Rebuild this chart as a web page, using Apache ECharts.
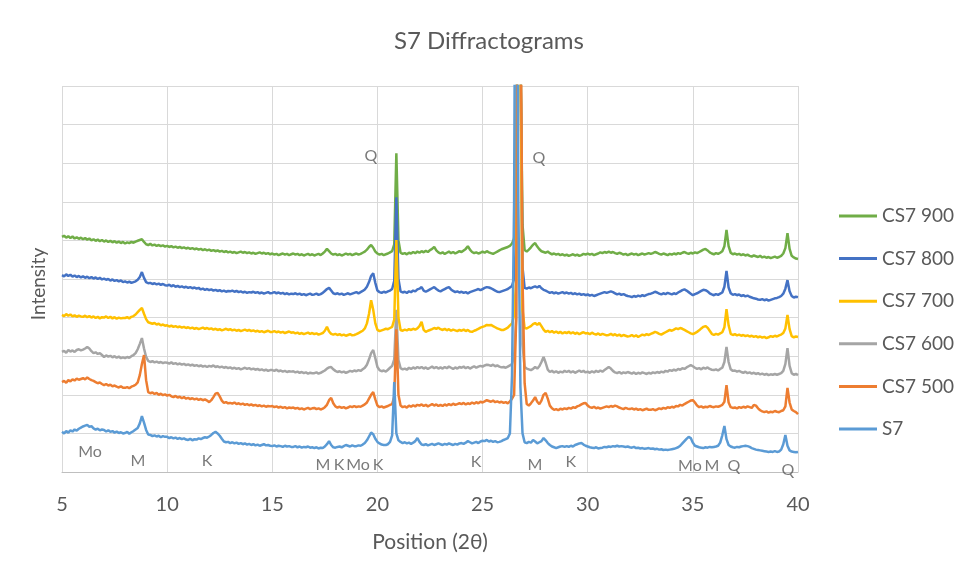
<!DOCTYPE html>
<html>
<head>
<meta charset="utf-8">
<script src="https://cdn.jsdelivr.net/npm/echarts@6/dist/echarts.min.js"></script>
<style>
  html, body { margin: 0; padding: 0; background: #ffffff; }
  #chart { width: 964px; height: 579px; }
</style>
</head>
<body>
<div id="chart"></div>
<script>
// Scan: 2θ from 5° to 40° in 0.1° steps (351 points per pattern)
const scanStart = 5.0;
const scanStep = 0.1;

// Intensities (offset, arbitrary units), one row per degree
const s7 = [
  104, 100, 106, 102, 108, 105, 110, 107, 112, 115,
  118, 120, 122, 117, 119, 113, 110, 112, 108, 110,
  109, 105, 108, 104, 106, 102, 105, 101, 103, 100,
  101, 104, 99, 103, 106, 110, 114, 126, 145, 128,
  109, 97, 96, 93, 95, 92, 94, 90, 93, 91,
  91, 88, 90, 87, 89, 86, 88, 85, 87, 84,
  83, 86, 82, 85, 84, 87, 85, 88, 90, 89,
  92, 96, 101, 104, 100, 94, 86, 79, 77, 78,
  75, 77, 74, 76, 73, 75, 72, 74, 71, 73,
  70, 72, 69, 71, 68, 70, 72, 69, 70, 68,
  67, 69, 66, 68, 67, 65, 68, 66, 67, 65,
  65, 67, 64, 66, 63, 65, 64, 66, 63, 64,
  62, 64, 61, 63, 62, 66, 72, 80, 70, 64,
  63, 65, 66, 64, 67, 70, 68, 66, 69, 67,
  67, 69, 68, 71, 75, 82, 92, 102, 98, 86,
  78, 74, 71, 70, 70, 72, 78, 95, 233, 100,
  82, 78, 75, 77, 74, 76, 73, 76, 80, 88,
  78, 71, 70, 72, 69, 71, 73, 70, 72, 74,
  72, 70, 73, 71, 74, 72, 70, 73, 71, 74,
  75, 73, 76, 80, 77, 74, 76, 78, 75, 79,
  81, 80, 83, 79, 81, 78, 80, 77, 78, 80,
  83, 85, 88, 100, 250, 700, 2000, 700, 220, 100,
  77, 75, 78, 76, 83, 79, 74, 77, 80, 88,
  82, 75, 70, 66, 64, 62, 64, 66, 67, 65,
  67, 65, 68, 66, 70, 72, 74, 75, 71, 68,
  66, 64, 63, 62, 64, 61, 62, 63, 65, 64,
  66, 65, 67, 66, 68, 66, 67, 66, 65, 66,
  64, 63, 65, 62, 63, 61, 62, 60, 61, 62,
  60, 61, 59, 60, 58, 59, 57, 58, 57, 58,
  59, 60, 62, 64, 68, 74, 80, 86, 91, 88,
  76, 68, 66, 64, 63, 62, 64, 63, 65, 64,
  65, 66, 68, 76, 95, 119, 85, 70, 66, 64,
  63, 65, 64, 66, 67, 68, 67, 65, 62, 60,
  58, 57, 56, 55, 54, 53, 52, 53, 52, 54,
  52, 53, 58, 72, 96, 68, 56, 53, 52, 51,
  52
];

const cs7_500 = [
  233, 236, 231, 238, 235, 240, 237, 242, 239, 241,
  243, 240, 245, 241, 238, 236, 233, 230, 232, 228,
  225, 228, 224, 226, 222, 224, 221, 219, 222, 218,
  218, 220, 217, 221, 223, 226, 232, 251, 280, 303,
  238, 207, 204, 206, 202, 205, 200, 203, 199, 201,
  198, 200, 196, 194, 197, 193, 195, 191, 194, 190,
  192, 189, 191, 188, 190, 187, 189, 186, 188, 185,
  181, 186, 194, 203, 205, 196, 185, 179, 181, 178,
  179, 177, 180, 176, 178, 175, 177, 174, 176, 173,
  175, 172, 174, 171, 173, 170, 172, 169, 171, 170,
  171, 168, 170, 167, 169, 166, 168, 165, 167, 166,
  167, 164, 166, 163, 165, 162, 164, 166, 163, 165,
  166, 163, 165, 162, 164, 168, 174, 186, 192, 178,
  170, 167, 169, 166, 168, 165, 167, 170, 168, 171,
  168, 170, 169, 172, 175, 180, 190, 200, 207, 188,
  172, 168, 170, 167, 169, 171, 174, 176, 195, 370,
  200, 172, 168, 170, 167, 172, 169, 173, 170, 174,
  172, 175, 171, 174, 170, 173, 176, 172, 175, 171,
  174, 171, 175, 172, 176, 173, 177, 174, 176, 178,
  176, 179, 175, 178, 176, 180, 177, 181, 178, 182,
  180, 183, 186, 184, 182, 185, 181, 183, 180, 182,
  179, 181, 178, 183, 190, 200, 400, 1800, 1300, 500,
  230, 176, 172, 178, 185, 194, 182, 176, 185, 200,
  205, 190, 172, 165, 161, 163, 160, 164, 162, 165,
  163, 166, 164, 168, 166, 170, 172, 175, 178, 179,
  172, 168, 166, 169, 165, 167, 164, 166, 168, 170,
  168, 171, 169, 172, 170, 167, 165, 163, 166, 164,
  163, 165, 162, 164, 161, 163, 160, 162, 164, 161,
  161, 163, 160, 162, 165, 163, 166, 164, 168, 166,
  169, 167, 171, 170, 174, 172, 176, 179, 182, 185,
  186, 180, 172, 168, 170, 167, 169, 168, 171, 169,
  168, 170, 169, 171, 174, 182, 225, 180, 168, 166,
  167, 165, 168, 166, 169, 167, 170, 168, 166, 174,
  172, 165, 160, 157, 155, 157, 154, 156, 155, 158,
  156, 155, 158, 160, 170, 218, 180, 162, 158, 155,
  150
];

const cs7_600 = [
  311, 314, 309, 316, 312, 315, 311, 316, 318, 315,
  317, 320, 324, 320, 313, 308, 310, 306, 308, 303,
  298, 302, 299, 301, 297, 300, 296, 299, 295, 297,
  295, 298, 296, 300, 303, 308, 318, 332, 347, 320,
  298, 288, 285, 287, 284, 286, 283, 285, 282, 284,
  283, 281, 284, 280, 282, 279, 281, 278, 280, 277,
  279, 276, 278, 275, 277, 274, 276, 273, 275, 272,
  275, 273, 276, 272, 274, 271, 273, 270, 272, 269,
  271, 268, 270, 267, 269, 266, 268, 270, 267, 269,
  266, 268, 265, 267, 264, 266, 263, 265, 262, 264,
  264, 262, 265, 261, 263, 260, 262, 259, 261, 260,
  261, 258, 260, 257, 259, 256, 258, 255, 257, 256,
  256, 258, 255, 257, 260, 263, 268, 271, 272, 266,
  262, 259, 261, 258, 260, 257, 259, 262, 260, 263,
  261, 264, 262, 266, 270, 278, 292, 308, 316, 295,
  272, 264, 261, 263, 260, 265, 270, 275, 292, 420,
  290, 269, 266, 268, 265, 270, 267, 271, 268, 272,
  269, 272, 268, 271, 267, 270, 273, 269, 272, 268,
  271, 268, 272, 269, 273, 270, 267, 271, 268, 272,
  270, 273, 269, 272, 268, 271, 274, 270, 273, 275,
  273, 276, 278, 277, 275, 278, 274, 276, 273, 271,
  272, 270, 273, 276, 280, 300, 400, 1800, 1100, 330,
  272, 268, 266, 264, 267, 272, 268, 274, 285, 298,
  283, 265, 259, 262, 258, 261, 257, 260, 258, 262,
  259, 262, 258, 261, 257, 260, 263, 259, 262, 258,
  260, 257, 261, 258, 262, 259, 263, 260, 264, 268,
  272, 268, 262, 258, 256, 259, 255, 258, 256, 259,
  257, 255, 258, 254, 257, 255, 258, 256, 254, 257,
  255, 258, 256, 259, 257, 260, 258, 262, 260, 264,
  262, 265, 263, 267, 265, 269, 267, 271, 274, 277,
  274, 270, 267, 269, 266, 270, 268, 271, 267, 265,
  264, 266, 263, 267, 270, 285, 324, 285, 266, 262,
  263, 260, 262, 259, 257, 260, 256, 258, 255, 257,
  254, 256, 253, 255, 252, 254, 251, 253, 252, 254,
  252, 254, 256, 262, 280, 321, 275, 256, 252, 254,
  251
];

const cs7_700 = [
  407, 404, 409, 405, 408, 403, 406, 402, 405, 403,
  402, 405, 401, 404, 400, 403, 399, 402, 398, 401,
  400, 403, 399, 402, 398, 401, 397, 400, 398, 399,
  399, 401, 398, 402, 404, 408, 414, 420, 425, 410,
  396, 388, 386, 384, 386, 382, 384, 380, 382, 379,
  380, 377, 379, 376, 378, 375, 377, 374, 376, 373,
  375, 372, 374, 371, 373, 370, 372, 374, 371, 373,
  370, 372, 369, 371, 368, 370, 367, 369, 371, 368,
  370, 367, 369, 366, 368, 365, 367, 369, 366, 368,
  365, 367, 364, 366, 363, 365, 362, 364, 366, 363,
  363, 365, 362, 364, 361, 363, 360, 362, 364, 361,
  362, 359, 361, 358, 360, 357, 359, 361, 358, 360,
  357, 359, 356, 358, 360, 366, 376, 364, 358, 356,
  358, 355, 357, 354, 356, 353, 355, 357, 354, 355,
  357, 360, 363, 366, 372, 385, 410, 445, 420, 385,
  368, 365, 367, 369, 371, 370, 373, 376, 395, 601,
  400, 368, 366, 369, 367, 370, 368, 371, 369, 372,
  378, 389, 368, 363, 366, 368, 370, 373, 371, 374,
  370, 368, 371, 367, 370, 366, 369, 367, 365, 368,
  366, 369, 365, 368, 364, 363, 366, 368, 371, 374,
  376, 378, 381, 380, 381, 378, 375, 372, 370, 368,
  368, 371, 374, 380, 385, 405, 500, 1800, 1100, 420,
  373, 372, 375, 378, 383, 386, 381, 386, 378, 369,
  363, 366, 362, 365, 361, 364, 360, 363, 359, 362,
  360, 363, 359, 362, 358, 361, 357, 360, 362, 359,
  360, 357, 361, 358, 356, 359, 355, 358, 356, 354,
  355, 358, 354, 357, 353, 356, 352, 355, 353, 351,
  352, 355, 351, 354, 350, 353, 356, 354, 357, 355,
  358, 360, 363, 361, 358, 356, 359, 362, 365, 368,
  366, 369, 372, 370, 373, 371, 368, 365, 362, 359,
  357, 360, 363, 367, 372, 376, 378, 374, 366, 358,
  355, 358, 356, 359, 362, 375, 422, 380, 358, 355,
  357, 354, 356, 353, 355, 352, 354, 351, 353, 350,
  352, 349, 351, 348, 350, 347, 349, 352, 350, 353,
  351, 354, 356, 360, 372, 407, 370, 352, 349, 351,
  350
];

const cs7_800 = [
  510, 507, 512, 508, 511, 506, 509, 505, 508, 504,
  507, 503, 506, 502, 505, 501, 504, 500, 503, 499,
  501, 498, 500, 496, 499, 495, 497, 494, 496, 492,
  494, 491, 493, 490, 492, 494, 498, 505, 518, 503,
  492, 489, 490, 487, 489, 486, 488, 485, 487, 484,
  483, 485, 481, 484, 480, 482, 479, 481, 478, 480,
  477, 479, 476, 478, 475, 477, 473, 475, 472, 474,
  471, 473, 470, 472, 469, 471, 468, 470, 467, 469,
  468, 470, 467, 469, 466, 468, 465, 467, 464, 466,
  465, 467, 464, 466, 463, 465, 462, 464, 466, 463,
  464, 466, 463, 465, 462, 464, 461, 463, 460, 462,
  461, 463, 460, 462, 459, 461, 458, 460, 462, 459,
  460, 462, 459, 461, 464, 469, 474, 477, 470, 463,
  461, 463, 460, 462, 459, 461, 463, 460, 462, 464,
  466, 463, 466, 469, 473, 480, 492, 508, 515, 490,
  470, 466, 464, 467, 465, 468, 470, 474, 495, 712,
  500, 468, 465, 467, 464, 468, 466, 470, 468, 473,
  475, 479, 470, 467, 470, 473, 476, 479, 474, 470,
  468, 471, 474, 477, 479, 473, 469, 466, 468, 465,
  467, 464, 466, 463, 466, 468, 470, 472, 474, 471,
  474, 477, 479, 478, 476, 473, 470, 467, 466, 468,
  470, 472, 474, 478, 482, 500, 600, 1800, 1100, 530,
  477, 475, 478, 476, 479, 481, 478, 482, 476, 472,
  470, 467, 464, 466, 463, 465, 462, 464, 466, 463,
  465, 462, 464, 461, 463, 460, 462, 459, 461, 458,
  460, 457, 459, 456, 458, 460, 462, 464, 466, 464,
  466, 468, 466, 463, 460, 462, 459, 461, 458, 456,
  455, 453, 456, 454, 457, 455, 458, 456, 459, 461,
  462, 464, 467, 465, 462, 460, 463, 461, 464, 462,
  460, 463, 461, 465, 468, 471, 473, 470, 466, 462,
  458, 461, 463, 466, 469, 472, 471, 468, 463, 460,
  458, 461, 459, 462, 465, 480, 521, 478, 463, 459,
  461, 458, 460, 456, 458, 455, 457, 454, 452, 450,
  449, 447, 446, 448, 445, 447, 444, 446, 448, 450,
  451, 453, 456, 462, 475, 497, 468, 456, 452, 454,
  453
];

const cs7_900 = [
  609, 612, 607, 611, 606, 610, 605, 608, 604, 607,
  603, 606, 602, 605, 600, 603, 599, 602, 598, 601,
  597, 600, 596, 599, 595, 598, 594, 597, 593, 596,
  592, 595, 593, 596, 594, 597, 599, 601, 603, 596,
  590, 588, 591, 587, 589, 586, 588, 585, 587, 584,
  586, 583, 585, 582, 584, 581, 583, 580, 582, 579,
  581, 578, 580, 577, 579, 576, 578, 575, 577, 574,
  576, 573, 575, 572, 574, 571, 573, 570, 572, 569,
  571, 568, 570, 567, 569, 571, 568, 570, 567, 569,
  566, 568, 565, 567, 569, 566, 568, 565, 567, 564,
  566, 563, 565, 562, 564, 566, 563, 565, 562, 564,
  566, 563, 565, 562, 564, 561, 563, 565, 562, 564,
  561, 563, 565, 562, 566, 571, 578, 572, 566, 563,
  565, 562, 564, 561, 563, 566, 563, 565, 562, 564,
  566, 563, 565, 568, 571, 576, 583, 588, 581, 571,
  566, 563, 565, 562, 564, 566, 569, 572, 590, 826,
  600, 568, 565, 567, 564, 568, 566, 570, 567, 571,
  568, 572, 569, 573, 570, 575, 578, 583, 574, 569,
  566, 569, 565, 568, 571, 567, 570, 566, 569, 572,
  570, 574, 578, 585, 576, 570, 567, 569, 566, 568,
  571, 568, 572, 569, 567, 565, 568, 571, 574, 577,
  579, 581, 583, 586, 592, 605, 700, 1800, 1100, 640,
  575, 571, 576, 582, 589, 593, 584, 577, 572, 570,
  568, 571, 567, 564, 566, 563, 565, 562, 564, 561,
  563, 560, 562, 564, 561, 563, 560, 562, 565, 563,
  566, 563, 565, 562, 564, 566, 569, 567, 570, 568,
  571, 568, 570, 567, 565, 568, 566, 563, 565, 562,
  564, 566, 563, 565, 562, 564, 566, 563, 565, 567,
  565, 567, 570, 568, 565, 563, 566, 564, 562, 565,
  563, 566, 564, 567, 565, 568, 570, 567, 565, 568,
  566, 569, 567, 570, 573, 576, 578, 574, 569, 566,
  564, 567, 565, 568, 572, 585, 627, 585, 568, 564,
  566, 563, 565, 562, 564, 561, 563, 560, 558, 561,
  559, 557, 560, 556, 558, 555, 557, 554, 556, 558,
  555, 557, 560, 566, 580, 619, 578, 560, 556, 553,
  552
];

// Phase identification tags: Mo = montmorillonite, M = mica, K = kaolinite, Q = quartz
const phaseTags = ['Mo', 'M', 'K', 'M', 'K', 'Mo', 'K', 'K', 'M', 'K', 'Mo', 'M', 'Q', 'Q', 'Q', 'Q'];
const phaseTagTheta = [6.33, 8.61, 11.9, 17.41, 18.17, 19.08, 20.03, 24.69, 27.49, 29.2, 34.86, 35.91, 36.95, 39.52, 19.69, 27.68];
const phaseTagLevel = [52, 28, 28, 18, 18, 18, 18, 26, 18, 26, 16, 16, 16, 5, 818, 813];

const xTicks = { min: 5, max: 40, step: 5 };

// Drawing order (later = on top) and legend order
const drawOrder = [
  { name: 'CS7 900', data: cs7_900, color: '#70AD47' },
  { name: 'CS7 800', data: cs7_800, color: '#4472C4' },
  { name: 'CS7 600', data: cs7_600, color: '#A5A5A5' },
  { name: 'CS7 700', data: cs7_700, color: '#FFC000' },
  { name: 'CS7 500', data: cs7_500, color: '#ED7D31' },
  { name: 'S7',      data: s7,      color: '#5B9BD5' }
];
const legendOrder = ['CS7 900', 'CS7 800', 'CS7 700', 'CS7 600', 'CS7 500', 'S7'];

const FONT = 'Lato, "Open Sans", sans-serif';
const TEXT = '#595959';

function toPoints(values) {
  return values.map((v, i) => [Math.round((scanStart + i * scanStep) * 100) / 100, v]);
}

const lineSeries = drawOrder.map(s => ({
  name: s.name,
  type: 'line',
  data: toPoints(s.data),
  showSymbol: false,
  symbol: 'none',
  clip: true,
  lineStyle: { color: s.color, width: 2.5 },
  itemStyle: { color: s.color },
  emphasis: { disabled: true },
  silent: true
}));

const tagSeries = {
  name: 'phases',
  type: 'scatter',
  symbolSize: 1,
  itemStyle: { color: 'rgba(0,0,0,0)' },
  silent: true,
  z: 5,
  data: phaseTags.map((t, i) => ({ name: t, value: [phaseTagTheta[i], phaseTagLevel[i]] })),
  label: {
    show: true,
    position: 'inside',
    formatter: '{b}',
    fontFamily: FONT,
    fontSize: 16,
    color: TEXT
  }
};

const chart = echarts.init(document.getElementById('chart'), null, { renderer: 'canvas' });
chart.setOption({
  animation: false,
  backgroundColor: '#ffffff',
  title: {
    text: 'S7 Diffractograms',
    left: 394,
    top: 29,
    padding: 0,
    textStyle: { fontFamily: FONT, fontSize: 24, fontWeight: 'normal', color: TEXT }
  },
  legend: {
    data: legendOrder,
    orient: 'vertical',
    left: 839,
    top: 206,
    padding: 0,
    icon: 'rect',
    itemWidth: 38,
    itemHeight: 3,
    itemGap: 22.6,
    textStyle: { fontFamily: FONT, fontSize: 19, color: TEXT, lineHeight: 20 },
    selectedMode: false
  },
  grid: { left: 62, right: 166, top: 86, bottom: 107, containLabel: false },
  xAxis: {
    type: 'value',
    min: xTicks.min,
    max: xTicks.max,
    interval: xTicks.step,
    name: 'Position (2θ)',
    nameLocation: 'middle',
    nameGap: 60,
    nameTextStyle: { fontFamily: FONT, fontSize: 21, color: TEXT },
    axisLine: { show: true, lineStyle: { color: '#BFBFBF', width: 1 } },
    axisTick: { show: false },
    axisLabel: { fontFamily: FONT, fontSize: 20, color: TEXT, margin: 23 },
    splitLine: { show: true, lineStyle: { color: '#D9D9D9', width: 1 } }
  },
  yAxis: {
    type: 'value',
    min: 0,
    max: 1000,
    interval: 100,
    name: 'Intensity',
    nameLocation: 'middle',
    nameGap: 14,
    nameRotate: 90,
    nameTextStyle: { fontFamily: FONT, fontSize: 19, color: TEXT, padding: [0, 10, 0, 0] },
    axisLine: { show: false },
    axisTick: { show: false },
    axisLabel: { show: false },
    splitLine: { show: true, lineStyle: { color: '#D9D9D9', width: 1 } }
  },
  series: lineSeries.concat([tagSeries])
});
</script>
</body>
</html>
